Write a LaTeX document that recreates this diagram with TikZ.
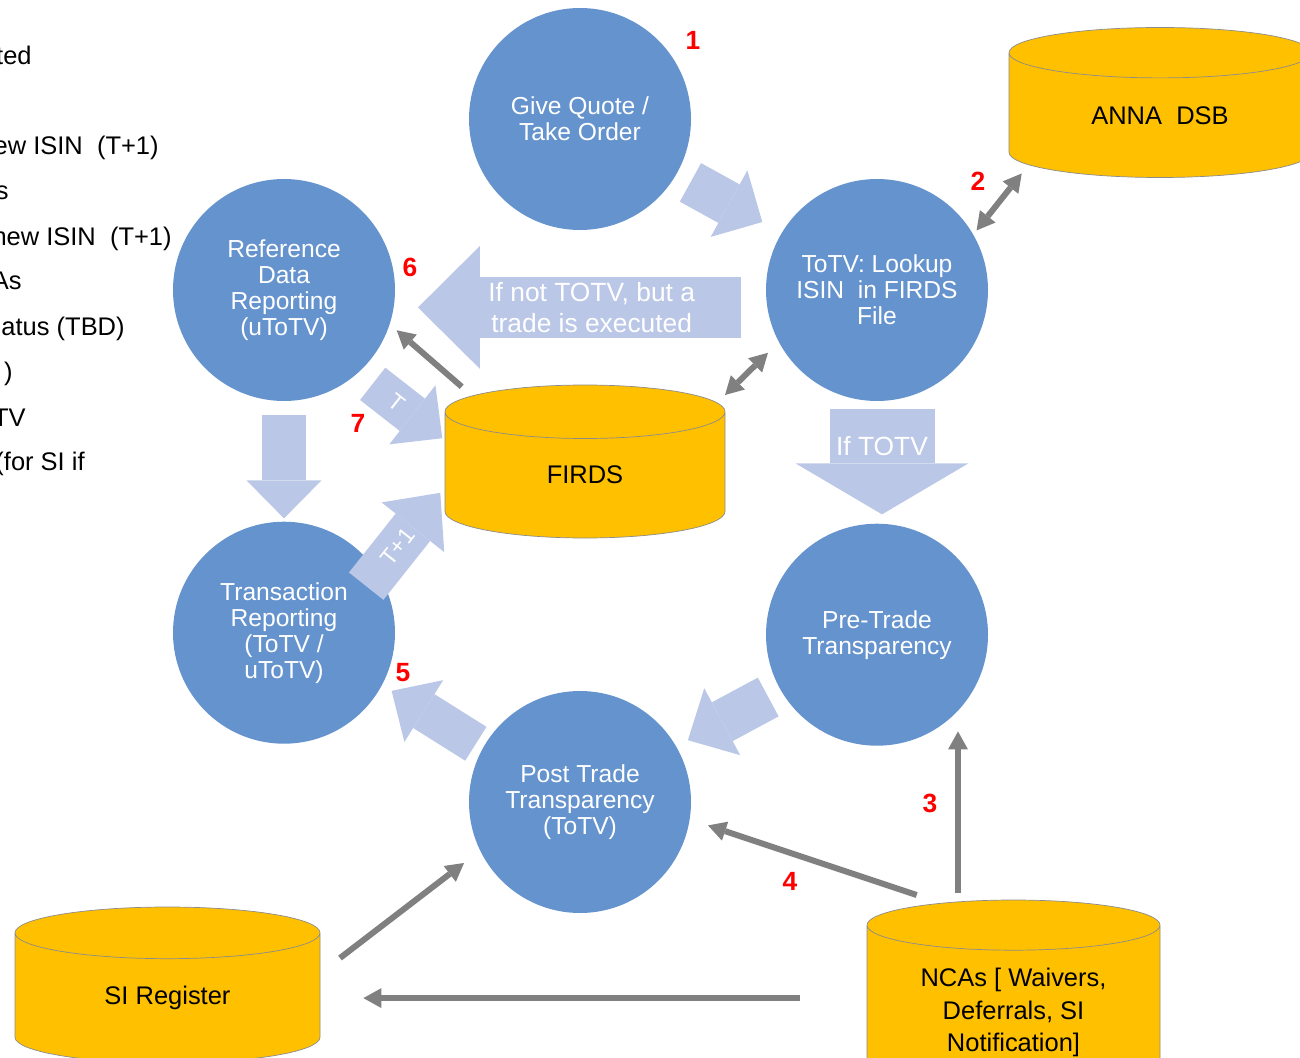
\documentclass[tikz,border=0pt]{standalone}
\usepackage{fontspec}
\setmainfont{Liberation Sans}
\usetikzlibrary{arrows.meta, positioning, shapes.geometric}

\newlength\pxu
\setlength\pxu{0.02cm}

\definecolor{discblue}{RGB}{101,147,206}
\definecolor{flowblue}{RGB}{187,199,231}
\definecolor{storegold}{RGB}{255,192,0}
\definecolor{linkgray}{RGB}{128,128,128}
\definecolor{edgegray}{RGB}{140,140,140}

\begin{document}
\begin{tikzpicture}[
        x=\pxu, y=-\pxu,
        stage/.style={circle, fill=discblue, text=white, minimum size=222\pxu, inner sep=0pt, align=center, font=\fontsize{14}{14.8}\selectfont},
        store/.style={cylinder, shape border rotate=90, anchor=shape center, draw=edgegray, fill=storegold, align=center, inner sep=0pt, font=\fontsize{14.5}{18.5}\selectfont},
        flow/.style n args={3}{draw=flowblue, line width=#1, -{Triangle[width=#2, length=#3, line width=0pt]}},
        link/.style={draw=linkgray, line width=0.12cm, -{Triangle[width=0.4cm, length=0.36cm, line width=0pt]}},
        twoway/.style={draw=linkgray, line width=0.12cm, {Triangle[width=0.4cm, length=0.36cm, line width=0pt]}-{Triangle[width=0.4cm, length=0.36cm, line width=0pt]}},
        flowtext/.style={text=white, align=center, font=\fontsize{15}{17.6}\selectfont},
        num/.style={text=red, font=\fontsize{15}{15}\selectfont\bfseries},
        cut/.style={anchor=base east, inner sep=0pt, font=\fontsize{14.5}{14.5}\selectfont}
    ]
    \path[use as bounding box] (0,0) rectangle (1300,1057);
    \clip (0,0) rectangle (1300,1057);

    % list cut off at the left edge
    \node[cut] (frag1) at (32,65) {ted};
    \node[cut] (frag2) at (159,155) {ew ISIN~ (T+1)};
    \node[cut] (frag3) at (9,200) {s};
    \node[cut] (frag4) at (172,246) {new ISIN~ (T+1)};
    \node[cut] (frag5) at (22,290) {As};
    \node[cut] (frag6) at (125,335) {atus (TBD)};
    \node[cut] (frag7) at (13,380) {)};
    \node[cut] (frag8) at (26,426) {TV};
    \node[cut] (frag9) at (85,470) {(for SI if};

    % stages
    \node[stage] (quote) at (580,119) {Give Quote /\\Take Order};
    \node[stage] (totv) at (877,290) {ToTV: Lookup\\ISIN~ in FIRDS\\File};
    \node[stage] (ref) at (284,290) {Reference\\Data\\Reporting\\(uToTV)};
    \node[stage, below=120\pxu of ref] (trans) {Transaction\\Reporting\\(ToTV /\\uToTV)};
    \node[stage, below=122\pxu of totv] (pre) {Pre-Trade\\Transparency};
    \node[stage] (post) at (580,802) {Post Trade\\Transparency\\(ToTV)};

    % data stores
    \node[store, aspect=0.367, minimum width=302\pxu, minimum height=150\pxu] (anna) at (1160,102.5) {ANNA~ DSB};
    \node[store, aspect=0.7, minimum width=280\pxu, minimum height=153\pxu] (firds) at (585,461.5) {FIRDS};
    \node[store, aspect=0.41, minimum width=305\pxu, minimum height=156\pxu] (si) at (167.5,985) {SI Register};
    \node[store, aspect=0.27, minimum width=293\pxu, minimum height=200\pxu] (ncas) at (1013.5,1000) {NCAs [ Waivers,\\Deferrals, SI\\Notification]};

    % process flow
    \draw[flow={0.88cm}{1.52cm}{0.76cm}, shorten <=16\pxu, shorten >=22\pxu] (quote.-30) -- (totv.149);
    \draw[flow={1.22cm}{2.46cm}{1.24cm}, shorten <=26\pxu, shorten >=24\pxu] (totv.189) -- node[flowtext, pos=0.47] {If not TOTV, but a\\trade is executed} (ref.-9);
    \draw[flow={2.1cm}{3.46cm}{1.02cm}, shorten <=8\pxu, shorten >=9\pxu] ([xshift=5\pxu]totv.south) -- node[flowtext, pos=0.37] {If TOTV} ([xshift=5\pxu]pre.north);
    \draw[flow={0.88cm}{1.5cm}{0.76cm}, shorten <=14\pxu, shorten >=3\pxu] (ref.south) -- (trans.north);
    \draw[flow={0.82cm}{1.5cm}{0.76cm}, shorten <=18\pxu, shorten >=3\pxu] (ref.-48) -- node[flowtext, sloped, pos=0.45, font=\fontsize{13}{13}\selectfont] {T} (firds.166);
    \draw[flow={0.88cm}{1.6cm}{0.88cm}, shorten <=-18\pxu, shorten >=7\pxu] (trans.33) -- node[flowtext, sloped, pos=0.3, font=\fontsize{13}{13}\selectfont] {T+1} (firds.185);
    \draw[flow={0.88cm}{1.52cm}{0.78cm}, shorten <=14\pxu, shorten >=13\pxu] (pre.210) -- (post.30);
    \draw[flow={0.8cm}{1.46cm}{0.76cm}, shorten <=8\pxu, shorten >=11\pxu] (post.151) -- (trans.-28);

    % lookups and feeds
    \draw[twoway, shorten <=5\pxu] (totv.30) -- ([shift={(-138.3,71)}]anna.shape center);
    \draw[twoway, shorten >=15\pxu] ([shift={(140,-66.5)}]firds.shape center) -- (totv.208);
    \draw[link, shorten >=9\pxu] ([shift={(-123.3,-74.8)}]firds.shape center) -- (ref.-18);
    \draw[link, shorten >=18\pxu] ([shift={(-55.5,-107)}]ncas.shape center) -- ([xshift=-55.5\pxu]ncas.shape center |- pre.south east);
    \draw[link, shorten >=19\pxu] ([shift={(-96.8,-105)}]ncas.shape center) -- (post.-9);
    \draw[link, shorten <=67\pxu, shorten >=43\pxu] (ncas.west |- si.east) -- (si.east);
    \draw[link, shorten >=20\pxu] ([shift={(172.5,-27)}]si.shape center) -- (post.206);

    % step numbers
    \node[num] (n1) at (693,40) {1};
    \node[num] (n2) at (978,181) {2};
    \node[num] (n3) at (930,803) {3};
    \node[num] (n4) at (790,881) {4};
    \node[num] (n5) at (403,673) {5};
    \node[num] (n6) at (410,267) {6};
    \node[num] (n7) at (358,423) {7};
\end{tikzpicture}
\end{document}
